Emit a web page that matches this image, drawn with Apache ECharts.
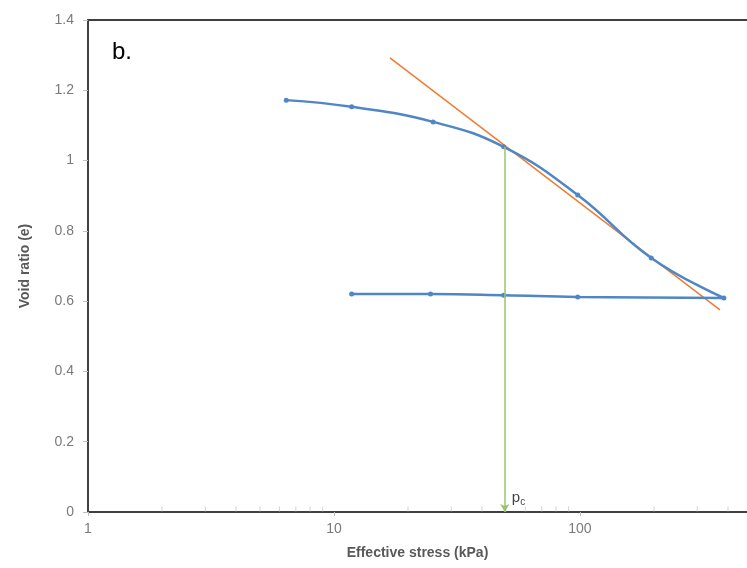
<!DOCTYPE html>
<html>
<head>
<meta charset="utf-8">
<script src="https://cdn.jsdelivr.net/npm/echarts@6/dist/echarts.min.js"></script>
<style>html,body{margin:0;padding:0;background:#fff}#c{width:747px;height:568px}</style>
</head>
<body>
<div id="c"></div>
<script>
// Void ratio vs effective stress (loading then unloading)
const stress = [6.4, 11.8, 25.3, 49, 98, 195, 385, 98, 49, 24.7, 11.8];
const voidRatio = [1.172, 1.153, 1.110, 1.039, 0.902, 0.723, 0.609, 0.612, 0.617, 0.620, 0.620];
// Tangent (compression index) line
const tangentStress = [16.9, 371];
const tangentVoid = [1.292, 0.575];
// Preconsolidation pressure pc
const pcStress = 49.5;
const pcVoidTop = 1.039;
// Axis ticks
const yTicks = [0, 0.2, 0.4, 0.6, 0.8, 1, 1.2, 1.4];
const xMinorTicks = [2,3,4,5,6,7,8,9,20,30,40,50,60,70,80,90,200,300,400];

const FONT = 'Liberation Sans, Arial, sans-serif';
const chart = echarts.init(document.getElementById('c'));
const isPow10 = v => Math.abs(Math.log10(v) - Math.round(Math.log10(v))) < 1e-6;

chart.setOption({
  animation: false,
  backgroundColor: '#fff',
  grid: {left: 88, top: 20, right: 0, bottom: 56},
  graphic: [{
    type: 'text', left: 112, top: 40,
    style: {text: 'b.', font: '24px ' + FONT, fill: '#000'}
  }],
  xAxis: [{
    type: 'log', logBase: 10, min: 1, max: 478,
    name: 'Effective stress (kPa)', nameLocation: 'middle', nameGap: 34,
    nameTextStyle: {fontFamily: FONT, fontWeight: 'bold', fontSize: 14, color: '#595959'},
    axisLine: {lineStyle: {color: '#404040', width: 2}},
    axisTick: {show: true, length: 4, lineStyle: {color: '#bfbfbf'}},
    axisLabel: {fontFamily: FONT, fontSize: 14, color: '#7a7a7a', margin: 10, showMaxLabel: false,
      formatter: v => isPow10(v) ? String(Math.round(v)) : ''},
    splitLine: {show: false}
  }, {
    type: 'log', logBase: 10, min: 1, max: 478, position: 'top',
    axisLine: {lineStyle: {color: '#404040', width: 2}},
    axisTick: {show: false}, axisLabel: {show: false}, splitLine: {show: false}
  }],
  yAxis: {
    type: 'value', min: 0, max: 1.4, interval: 0.2,
    name: 'Void ratio (e)', nameLocation: 'middle', nameGap: 56,
    nameTextStyle: {fontFamily: FONT, fontWeight: 'bold', fontSize: 14, color: '#595959'},
    axisLine: {show: true, lineStyle: {color: '#404040', width: 2}},
    axisTick: {show: true, length: 5, lineStyle: {color: '#bfbfbf'}},
    axisLabel: {fontFamily: FONT, fontSize: 14, color: '#7a7a7a', margin: 14,
      formatter: v => String(+v.toFixed(1))},
    splitLine: {show: false}
  },
  series: [
    {
      type: 'scatter', silent: true, symbol: 'rect', symbolSize: [1, 5], symbolOffset: [0, -3],
      itemStyle: {color: '#c8c8c8'},
      data: xMinorTicks.map(v => [v, 0]), z: 1
    },
    {
      type: 'line', smooth: 0.45, symbol: 'circle', symbolSize: 5,
      lineStyle: {color: '#4F86C6', width: 2.5},
      itemStyle: {color: '#4F86C6'},
      data: stress.map((s, i) => [s, voidRatio[i]]), z: 3
    },
    {
      type: 'line', symbol: 'none',
      lineStyle: {color: '#ED7D31', width: 1.5},
      data: tangentStress.map((s, i) => [s, tangentVoid[i]]), z: 2
    },
    {
      type: 'scatter', symbolSize: 0,
      data: [[pcStress, 0]],
      label: {show: true, position: 'right', offset: [2, -14],
        formatter: '{p|p}{c|c}',
        rich: {p: {fontFamily: 'Liberation Sans, Arial', fontSize: 15, color: '#111'},
               c: {fontFamily: 'Liberation Sans, Arial', fontSize: 10, color: '#111', padding: [8, 0, 0, 0]}}},
      markLine: {
        silent: true, symbol: ['none', 'arrow'], symbolSize: [7, 8],
        lineStyle: {color: '#9BC46A', width: 1.5, type: 'solid'},
        label: {show: false},
        data: [[{coord: [pcStress, pcVoidTop]}, {coord: [pcStress, 0]}]]
      }, z: 2
    }
  ]
});
</script>
</body>
</html>
